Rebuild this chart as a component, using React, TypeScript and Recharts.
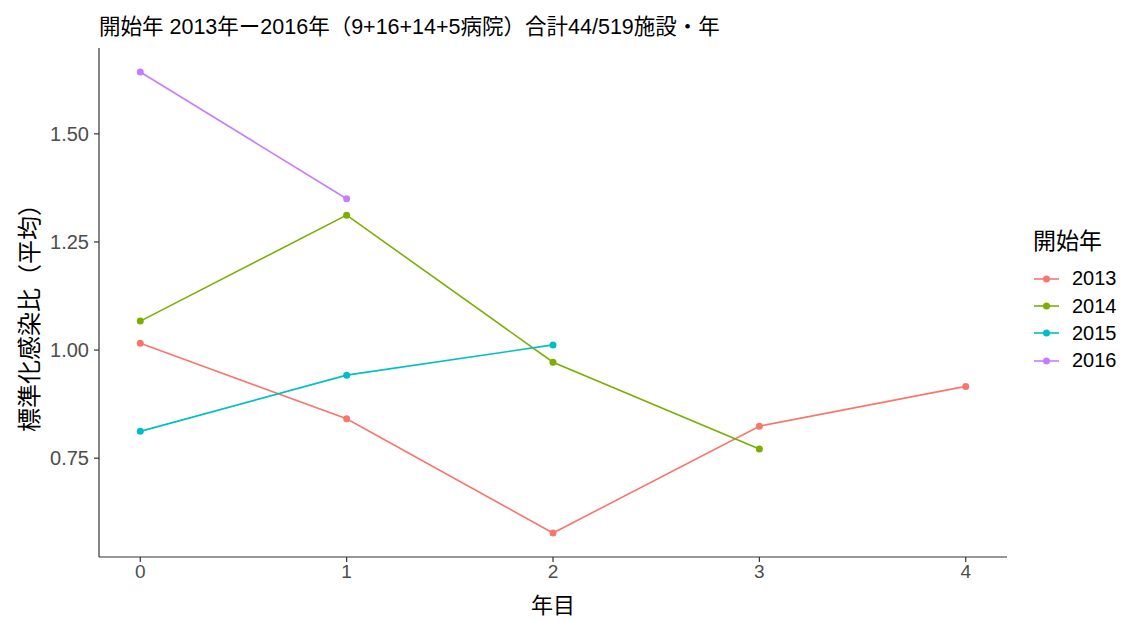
import { LineChart, Line, XAxis, YAxis, Label } from "recharts";

const years = ["2013", "2014", "2015", "2016"];
const colors = ["#F8766D", "#7CAE00", "#00BFC4", "#C77CFF"];

const s2013 = [1.016, 0.841, 0.577, 0.824, 0.916];
const s2014 = [1.067, 1.312, 0.972, 0.771];
const s2015 = [0.812, 0.942, 1.012];
const s2016 = [1.643, 1.35];

const xTicks = [0, 1, 2, 3, 4];
const yTicks = [0.75, 1.0, 1.25, 1.5];

const seriesValues = [s2013, s2014, s2015, s2016];
const series = seriesValues.map((vals, i) => ({
  name: years[i],
  color: colors[i],
  data: vals.map((v, x) => ({ x, y: v })),
}));

const FONT = "'Liberation Sans', 'Noto Sans CJK JP', sans-serif";

export default function App() {
  return (
    <div style={{ position: "fixed", top: 0, left: 0, width: 1129, height: 621, background: "#fff", fontFamily: FONT }}>
      <div style={{ position: "absolute", left: 99, top: 9, fontSize: 21.5, color: "#000", whiteSpace: "nowrap" }}>
        開始年 2013年ー2016年（9+16+14+5病院）合計44/519施設・年
      </div>
      <LineChart
        width={1129}
        height={621}
        margin={{ top: 48, right: 122, bottom: 34, left: 29 }}
        style={{ fontFamily: FONT }}
      >
        <XAxis
          type="number"
          dataKey="x"
          domain={[-0.2, 4.2]}
          ticks={xTicks}
          allowDuplicatedCategory={false}
          height={30}
          tickSize={5}
          tickMargin={3}
          axisLine={{ stroke: "#333", strokeWidth: 1.2 }}
          tickLine={{ stroke: "#333", strokeWidth: 1.2 }}
          tick={{ fill: "#4d4d4d", fontSize: 19 }}
        >
          <Label value="年目" position="bottom" offset={10} style={{ fill: "#000", fontSize: 22 }} />
        </XAxis>
        <YAxis
          type="number"
          dataKey="y"
          domain={[0.5215, 1.6985]}
          ticks={yTicks}
          tickFormatter={(v: number) => v.toFixed(2)}
          width={70}
          tickSize={5}
          tickMargin={5}
          axisLine={{ stroke: "#333", strokeWidth: 1.2 }}
          tickLine={{ stroke: "#333", strokeWidth: 1.2 }}
          tick={{ fill: "#4d4d4d", fontSize: 20 }}
        />
        {series.map((s) => (
          <Line
            key={s.name}
            data={s.data}
            dataKey="y"
            name={s.name}
            type="linear"
            stroke={s.color}
            strokeWidth={1.6}
            dot={{ r: 3.5, fill: s.color, stroke: s.color, strokeWidth: 0 }}
            activeDot={false}
            isAnimationActive={false}
          />
        ))}
      </LineChart>
      <div
        style={{
          position: "absolute",
          left: 27,
          top: 312,
          transform: "translate(-50%, -50%) rotate(-90deg)",
          fontSize: 24,
          color: "#000",
          whiteSpace: "nowrap",
        }}
      >
        標準化感染比（平均）
      </div>
      <div style={{ position: "absolute", left: 1033, top: 225 }}>
        <div style={{ fontSize: 23, color: "#000", marginBottom: 8, lineHeight: "32px" }}>開始年</div>
        {series.map((s) => (
          <div key={s.name} style={{ display: "flex", alignItems: "center", height: 27.4 }}>
            <svg width={27} height={12} style={{ marginRight: 12 }}>
              <line x1={1} y1={6} x2={26} y2={6} stroke={s.color} strokeWidth={1.6} />
              <circle cx={13.5} cy={6} r={3.5} fill={s.color} />
            </svg>
            <span style={{ fontSize: 20, color: "#000" }}>{s.name}</span>
          </div>
        ))}
      </div>
    </div>
  );
}
